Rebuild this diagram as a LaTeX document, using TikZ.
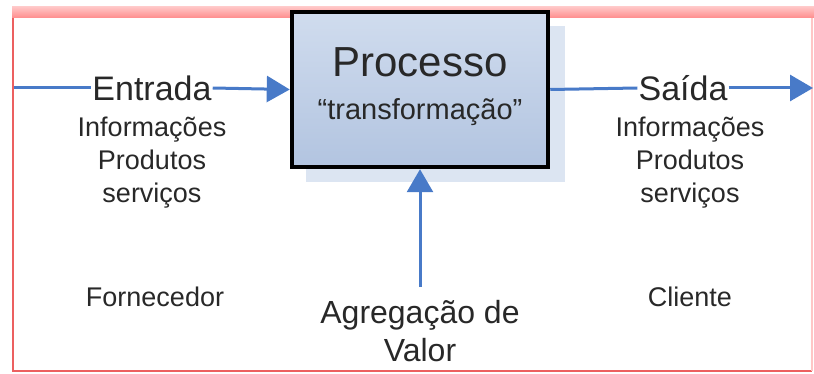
\documentclass[tikz,border=0pt]{standalone}
\usepackage{fontspec}
\setmainfont{Liberation Sans}
\usepackage{tikz}
\usetikzlibrary{arrows.meta}
\definecolor{framered}{RGB}{236,96,96}
\definecolor{framepink}{RGB}{255,140,140}
\definecolor{flowblue}{RGB}{72,122,200}
\definecolor{boxtop}{RGB}{208,220,238}
\definecolor{boxbot}{RGB}{178,196,224}
\definecolor{shadowblue}{RGB}{220,229,242}
\definecolor{inkgray}{RGB}{40,40,40}
\tikzstyle{label}=[inner sep = 1pt,text = inkgray,align = center]
\tikzstyle{flow}=[draw=flowblue,line width = 3pt]
\tikzstyle{flowarrow}=[flow,-{Triangle[length=23pt,width=26pt]}]

\begin{document}
\begin{tikzpicture}[x = 1pt, y = -1pt]
      \useasboundingbox (0,0) rectangle (814,374);

      % frame
      \fill[top color = framepink!50,bottom color = framepink] (12,7) rectangle (814,18);
      \draw[framered,line width = 2.5pt] (13,18) -- (13,371) -- (812,371);
      \draw[framepink!50,line width = 2pt] (812,18) -- (812,371);

      % process box with its shadow
      \fill[shadowblue] (306,26) rectangle (565,182);
      \node[draw=black,line width = 4.5pt,top color = boxtop,bottom color = boxbot,
            minimum width = 256pt,minimum height = 155pt,inner sep = 0pt] (proc) at (420,89.5) {};
      \node[label,font=\fontsize{42}{46}\selectfont] (proctitle) at (420,62) {Processo};
      \node[label,font=\fontsize{29}{33}\selectfont] (proctext) at (420,112)
        {\textquotedblleft transformação\textquotedblright};

      % input side
      \coordinate (in) at (14,88);
      \node[label,fill=white,font=\fontsize{34}{38}\selectfont] (entrada) at (152,88) {Entrada};
      \node[label,font=\fontsize{27}{33}\selectfont] (inlist) at (152,163)
        {Informações\\Produtos\\serviços};
      \node[label,font=\fontsize{27}{31}\selectfont] (forn) at (155,297) {Fornecedor};

      % output side
      \coordinate (out) at (813,88);
      \node[label,fill=white,font=\fontsize{34}{38}\selectfont] (saida) at (683,88) {Saída};
      \node[label,font=\fontsize{27}{33}\selectfont] (outlist) at (690,163)
        {Informações\\Produtos\\serviços};
      \node[label,font=\fontsize{27}{31}\selectfont] (cliente) at (690,297) {Cliente};

      % value added
      \node[label,font=\fontsize{32}{38}\selectfont] (agreg) at (420,331)
        {Agregação de\\Valor};
      \coordinate (agregtop) at (420,287);

      \draw[flow] (in) -- (entrada.west);
      \draw[flowarrow] (entrada.east) -- (proc.west);
      \draw[flow] (proc.east) -- (saida.west);
      \draw[flowarrow] (saida.east) -- (out);
      \draw[flowarrow] (agregtop) -- (proc.south);
    \end{tikzpicture}
\end{document}
